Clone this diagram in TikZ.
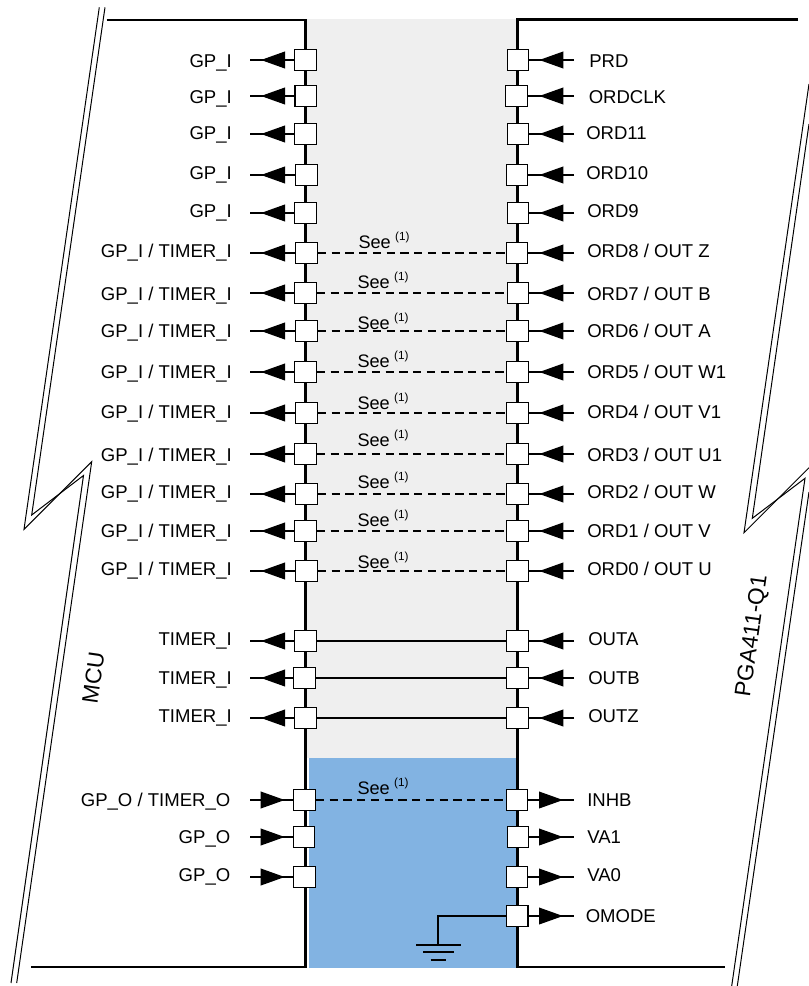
\documentclass[tikz,border=0pt]{standalone}
\usepackage{fontspec}
\usepackage{xcolor}
\setmainfont{Liberation Sans}
\usetikzlibrary{arrows.meta,decorations.markings}
\definecolor{padgray}{HTML}{EFEFEF}
\definecolor{padblue}{HTML}{82B3E2}
\newcommand{\seenote}{See\hspace{3.2pt}\raisebox{5.9pt}{\fontsize{8.8}{10}\selectfont (1)}}

\begin{document}
\begin{tikzpicture}[
    x=0.75pt, y=-0.75pt,
    pad/.style={rectangle, draw=black, fill=white, line width=0.9pt, minimum size=16.2pt, inner sep=0pt},
    spine/.style={draw=black, line width=1.9pt},
    wire/.style={draw=black, line width=0.9pt},
    bond/.style={draw=black, line width=0.85pt, dash pattern=on 6.2pt off 4.1pt},
    breakline/.style={draw=black, line width=0.75pt},
    pinout/.style={wire, postaction={decorate}, decoration={markings,
        mark=at position -8.25pt with {\arrow{Triangle[length=18pt, width=12.6pt]}}}},
    pinin/.style={wire, postaction={decorate}, decoration={markings,
        mark=at position 26pt with {\arrow{Triangle[length=18pt, width=12.6pt]}}}},
    lbl/.style={font=\fontsize{13.9}{16}\selectfont, inner sep=0pt},
    lbll/.style={lbl, anchor=base east},
    lblr/.style={lbl, anchor=base west},
    seelbl/.style={font=\fontsize{13.6}{16}\selectfont, inner sep=0pt, anchor=base west},
    chiplbl/.style={font=\fontsize{17}{20}\selectfont, inner sep=0pt, rotate=82},
  ]

  \useasboundingbox (0,0) rectangle (809,986);

  % ---- space between the two devices
  \fill[padgray] (306,19) rectangle (517,758);
  \fill[padblue] (309,758) rectangle (517,968);

  % ---- device outlines
  \draw[spine] (106.7,20) -- (305.5,20) -- (305.5,967) -- (30.7,967);
  \draw[spine] (798,19.3) -- (517.3,19.3) -- (517.3,967) -- (725,967);

  % ---- torn edge on the left
  \draw[breakline] (99.3,7.3) -- (24,529.3) -- (91.7,461.7) -- (16.7,983);
  \draw[breakline] (105,7.3) -- (31.7,515) -- (83.5,475.5) -- (11,983);

  % ---- torn edge on the right
  \draw[breakline] (809,84) -- (744,532.7) -- (809,467.7);
  \draw[breakline] (809,124) -- (752.3,518.3) -- (805,478.3) -- (731.7,986);
  \draw[breakline] (809,492) -- (737.3,986);

  % ---- pins read by the MCU: row, y, pad x left, pad x right, text y, text x right, texts
  \foreach \i/\y/\xl/\xr/\ty/\tx/\ltxt/\rtxt in {%
      1/60/305.5/518/61/589/{GP\_I}/{PRD},
      2/96/305.8/516.5/97/588.5/{GP\_I}/{ORDCLK},
      3/134/305.5/518/133/586/{GP\_I}/{ORD11},
      4/175/306.5/517/173/586/{GP\_I}/{ORD10},
      5/213/305.5/518/211/587/{GP\_I}/{ORD9},
      6/253/306.5/517/251/587/{GP\_I / TIMER\_I}/{ORD8 / OUT Z},
      7/293/305.5/518/294/587/{GP\_I / TIMER\_I}/{ORD7 / OUT B},
      8/331/306.5/517.5/331/587/{GP\_I / TIMER\_I}/{ORD6 / OUT A},
      9/372/305.5/517.5/372/587/{GP\_I / TIMER\_I}/{ORD5 / OUT W1},
      10/413/306.5/517.5/412/587/{GP\_I / TIMER\_I}/{ORD4 / OUT V1},
      11/454/305.5/517.5/455/587/{GP\_I / TIMER\_I}/{ORD3 / OUT U1},
      12/494/306.5/517.5/492/587/{GP\_I / TIMER\_I}/{ORD2 / OUT W},
      13/531/305.5/517.5/531/587/{GP\_I / TIMER\_I}/{ORD1 / OUT V},
      14/571/306.5/517.5/569/587/{GP\_I / TIMER\_I}/{ORD0 / OUT U},
      15/641/305.5/517.5/639/588/{TIMER\_I}/{OUTA},
      16/678/304.5/517.5/678/588/{TIMER\_I}/{OUTB},
      17/718/305.5/517.5/716/588/{TIMER\_I}/{OUTZ}} {
    \node[pad] (gl\i) at (\xl,\y) {};
    \node[pad] (gr\i) at (\xr,\y) {};
    \coordinate (el\i) at (250,\y);
    \coordinate (er\i) at (574,\y);
    \draw[pinout] (gl\i) -- (el\i);
    \draw[pinin] (er\i) -- (gr\i);
    \node[lbll] (ll\i) at (232,\ty+6.6) {\ltxt};
    \node[lblr] (lr\i) at (\tx,\ty+6.6) {\rtxt};
  }

  % ---- pins driven by the MCU
  \foreach \i/\y/\xl/\xr/\ty/\ltxt/\rtxt in {%
      18/800/304.5/517/799.5/{GP\_O / TIMER\_O}/{INHB},
      19/837/304/518/837/{GP\_O}/{VA1},
      20/877/304.5/517/875/{GP\_O}/{VA0}} {
    \node[pad] (gl\i) at (\xl,\y) {};
    \node[pad] (gr\i) at (\xr,\y) {};
    \coordinate (el\i) at (250,\y);
    \coordinate (er\i) at (574,\y);
    \draw[pinin] (el\i) -- (gl\i);
    \draw[pinout] (gr\i) -- (er\i);
    \node[lbll] (ll\i) at (230.5,\ty+6.6) {\ltxt};
    \node[lblr] (lr\i) at (587,\ty+6.6) {\rtxt};
  }

  % ---- optional links across
  \foreach \i/\sx/\sy in {%
      6/358.3/242, 7/357.3/282, 8/357.3/323, 9/357.3/361, 10/357.3/403,
      11/357.3/440, 12/357.3/481.5, 13/357.3/520, 14/357.3/562, 18/357.3/787.5} {
    \draw[bond] (gl\i) -- (gr\i);
    \node[seelbl] (see\i) at (\sx,\sy+6.6) {\seenote};
  }

  % ---- fixed links across
  \foreach \i in {15,16,17} {
    \draw[wire] (gl\i) -- (gr\i);
  }

  % ---- OMODE is tied to ground
  \node[pad] (gr21) at (517.2,916) {};
  \coordinate (er21) at (574,916);
  \coordinate (gnd) at (438,945);
  \draw[pinout] (gr21) -- (er21);
  \draw[wire] (gr21) -| (gnd);
  \draw[wire] (416,945) -- (461.3,945);
  \draw[wire] (423.3,952) -- (454,952);
  \draw[wire] (430.7,960) -- (446,960);
  \node[lblr] (lr21) at (585.5,916+6.6) {OMODE};

  % ---- device names
  \node[chiplbl] (mcu) at (93.3,678) {MCU};
  \node[chiplbl] (pga) at (752.7,636) {PGA411-Q1};

\end{tikzpicture}
\end{document}
